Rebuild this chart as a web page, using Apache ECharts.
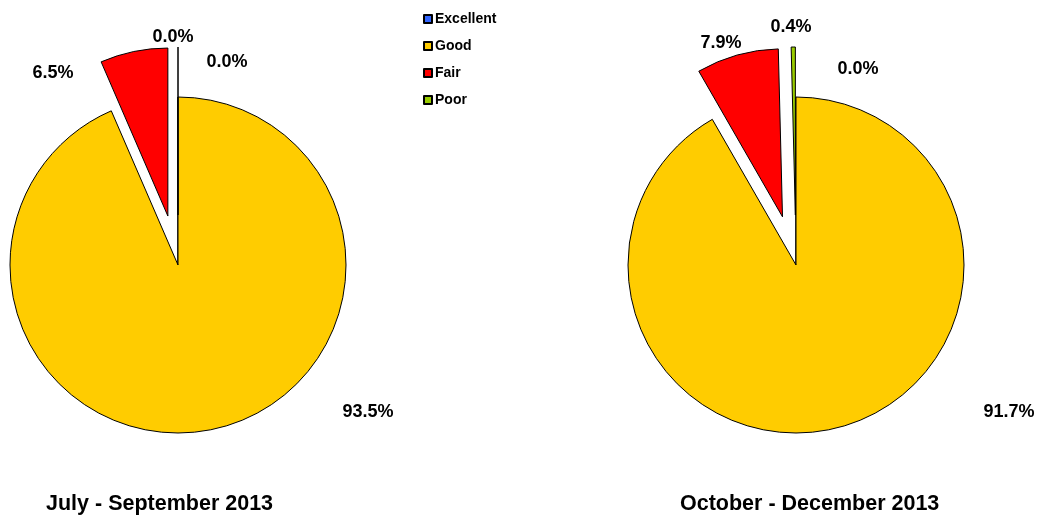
<!DOCTYPE html>
<html>
<head>
<meta charset="utf-8">
<script src="https://cdn.jsdelivr.net/npm/echarts@6/dist/echarts.min.js"></script>
<style>
  html, body { margin: 0; padding: 0; background: #fff; }
  #main { width: 1039px; height: 516px; }
</style>
</head>
<body>
<div id="main"></div>
<script>
// condition ratings, share of total
const categories = ['Excellent', 'Good', 'Fair', 'Poor'];
const julSep2013 = [0.0, 93.5, 6.5, 0.0];
const octDec2013 = [0.0, 91.7, 7.9, 0.4];
const periodTitles = ['July - September 2013', 'October - December 2013'];
const pulledOut = ['Fair', 'Poor'];

const colors = ['#3366FF', '#FFCC00', '#FF0000', '#99CC00'];
const font = '"Liberation Sans", Arial, sans-serif';

// label offsets from each pie's centre (Excel's own placement)
const labelOffsets = [
  [[49, -203], [190, 147], [-125, -192], [-5, -228]],
  [[62, -196], [213, 147], [-75, -222], [-5, -238]]
];
const centers = [[178, 265], [796, 265]];
const radius = 168;

const chart = echarts.init(document.getElementById('main'));

// visible slices, Fair and Poor pulled out
function makeSlices(idx, values) {
  return {
    name: periodTitles[idx],
    type: 'pie',
    center: centers[idx],
    radius: radius,
    startAngle: 90,
    clockwise: true,
    selectedMode: 'multiple',
    selectedOffset: 50,
    animation: false,
    emphasis: { disabled: true },
    itemStyle: { borderColor: '#000', borderWidth: 1 },
    label: { show: false },
    labelLine: { show: false },
    data: categories.map((name, i) => ({
      name: name,
      value: values[i],
      selected: pulledOut.indexOf(name) >= 0,
      itemStyle: { color: colors[i] }
    }))
  };
}

// same data again, invisible sectors, only carrying the labels
function makeLabels(idx, values) {
  const c = centers[idx];
  return {
    name: periodTitles[idx] + ' labels',
    type: 'pie',
    center: c,
    radius: radius,
    startAngle: 90,
    clockwise: true,
    silent: true,
    avoidLabelOverlap: false,
    animation: false,
    itemStyle: { color: 'rgba(0,0,0,0)', borderWidth: 0 },
    label: {
      show: true,
      position: 'outside',
      formatter: p => p.value.toFixed(1) + '%',
      color: '#000',
      fontWeight: 'bold',
      fontSize: 18,
      fontFamily: font
    },
    labelLine: { show: false },
    labelLayout: function (params) {
      const off = labelOffsets[idx][params.dataIndex];
      return {
        x: c[0] + off[0],
        y: c[1] + off[1],
        align: 'center',
        verticalAlign: 'middle'
      };
    },
    data: categories.map((name, i) => ({ name: name, value: values[i] }))
  };
}

const titleStyle = { fontSize: 21.5, fontWeight: 'bold', color: '#000', fontFamily: font };

const option = {
  backgroundColor: '#fff',
  color: colors,
  title: [
    { text: periodTitles[0], left: 41, top: 488, textStyle: titleStyle },
    { text: periodTitles[1], left: 675, top: 488, textStyle: titleStyle }
  ],
  legend: {
    orient: 'vertical',
    left: 418,
    top: 7,
    icon: 'rect',
    itemWidth: 8,
    itemHeight: 8,
    itemGap: 13,
    selectedMode: false,
    data: categories,
    textStyle: { fontSize: 14, fontWeight: 'bold', color: '#000', fontFamily: font, padding: [0, 0, 0, -2] }
  },
  series: [
    makeSlices(0, julSep2013),
    makeSlices(1, octDec2013),
    makeLabels(0, julSep2013),
    makeLabels(1, octDec2013)
  ]
};

chart.setOption(option);
</script>
</body>
</html>
